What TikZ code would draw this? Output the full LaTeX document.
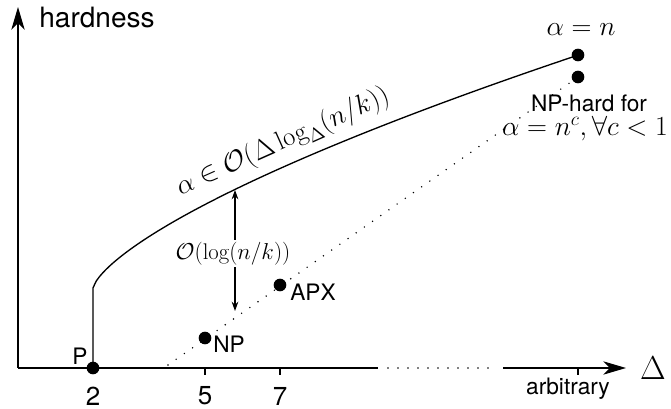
\documentclass[tikz,border=0pt]{standalone}
\usepackage{fontspec}
\newfontfamily\hv{TeX Gyre Heros}
\usetikzlibrary{arrows.meta}
\tikzset{
  ax/.style={line width=1pt},
  bigtip/.style={-{Stealth[length=17pt,width=10pt,inset=5pt]}},
  dot/.style={circle, fill=black, inner sep=0pt, minimum size=9.5pt},
  lab/.style={font=\hv\fontsize{17}{20}\selectfont, inner sep=0pt},
  num/.style={font=\hv\fontsize{19.5}{23}\selectfont, inner sep=0pt},
  mth/.style={font=\fontsize{20}{24}\selectfont, inner sep=0pt},
  smth/.style={font=\fontsize{17}{20}\selectfont, inner sep=1.5pt, fill=white},
  dotline/.style={line width=1.2pt, dash pattern=on 0pt off 7.5pt, line cap=round},
  tick/.style={line width=0.8pt},
}
\begin{document}
\begin{tikzpicture}[x=0.75pt,y=-0.75pt]
\useasboundingbox (0,0) rectangle (671,409);
% axes
\coordinate (O) at (18,368);
\coordinate (ytop) at (18,7);
\coordinate (xa) at (378,368);
\coordinate (xb) at (388,368);
\coordinate (xc) at (495,368);
\coordinate (xd) at (503,368);
\coordinate (xend) at (626,368);
\draw[ax,bigtip] (O) -- (ytop);
\draw[ax] (O) -- (xa);
\draw[dotline] (xb) -- (xc);
\draw[ax,bigtip] (xd) -- (xend);
% ticks
\coordinate (t5) at (205,368); \coordinate (t5b) at (205,375);
\coordinate (t7) at (280,368); \coordinate (t7b) at (280,375);
\coordinate (ta) at (578,368); \coordinate (tab) at (578,375);
\draw[tick] (t5) -- (t5b);
\draw[tick] (t7) -- (t7b);
\draw[tick] (ta) -- (tab);
% dotted line
\coordinate (dstart) at (168,365);
\node[dot] (nph) at (578,77) {};
\draw[dotline] (dstart) -- (nph.center);
% curve
\node[dot] (P) at (93,368) {};
\node[dot] (top) at (578,55) {};
\coordinate (kink) at (93,288);
\draw[ax] (P.center) -- (kink) -- plot[domain=0.01:485,samples=150] ({93+\x},{288-3.07*(\x)^0.7});
% dots
\node[dot] (NP) at (205,338) {};
\node[dot] (APX) at (280,285) {};
% labels
\node[lab, font=\hv\fontsize{21}{25}\selectfont] (hard) at (97,18) {hardness};
\node[lab] (Pl) at (80,356) {P};
\node[lab] (NPl) at (229,344) {NP};
\node[lab] (APXl) at (313,292) {APX};
\node[lab] (nphl) at (589,103) {NP-hard for};
\node[mth] (nphm) at (585,129) {$\alpha = n^c, \forall c<1$};
\node[mth] (topl) at (581,30) {$\alpha = n$};
\node[num] (n2) at (93,396) {2};
\node[num] (n5) at (205,396) {5};
\node[num] (n7) at (280,396) {7};
\node[lab] (arb) at (568,389) {arbitrary};
\node[font=\fontsize{29}{34}\selectfont, inner sep=0pt] (Dl) at (653,368) {$\Delta$};
\node[mth, rotate=24] (curvel) at (283,142) {$\alpha \in \mathcal{O}(\Delta \log_\Delta (n/k))$};
% gap arrow
\coordinate (ua) at (235,190);
\coordinate (ub) at (235,311);
\draw[line width=0.8pt,{Stealth[length=7pt,width=5pt]}-{Stealth[length=7pt,width=5pt]}] (ua) -- (ub);
\node[smth] (gap) at (233,254) {$\mathcal{O}(\log(n/k))$};
\end{tikzpicture}
\end{document}
